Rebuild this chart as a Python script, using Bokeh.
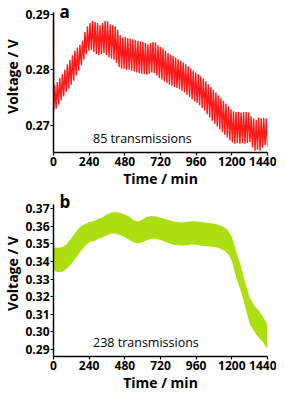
import numpy as np
from bokeh.plotting import figure
from bokeh.layouts import column
from bokeh.models import FixedTicker, PrintfTickFormatter, Label, Range1d
from bokeh.embed import file_html
from bokeh.resources import INLINE

# ---------------- Panel a : 85 transmissions ----------------
a_cycles = 85
a_duration = 1440
a_start_v = 0.2898
a_end_v = 0.2662
a_troughs = [
    0.2725, 0.2730, 0.2737, 0.2745, 0.2752, 0.2760, 0.2766, 0.2773, 0.2780, 0.2790,
    0.2798, 0.2808, 0.2818, 0.2828, 0.2834, 0.2836, 0.2832, 0.2828, 0.2826, 0.2828,
    0.2830, 0.2826, 0.2822, 0.2820, 0.2818, 0.2812, 0.2805, 0.2802, 0.2802, 0.2800,
    0.2800, 0.2798, 0.2797, 0.2795, 0.2794, 0.2793, 0.2792, 0.2791, 0.2793, 0.2795,
    0.2794, 0.2789, 0.2785, 0.2782, 0.2779, 0.2776, 0.2773, 0.2771, 0.2769, 0.2767,
    0.2765, 0.2762, 0.2759, 0.2755, 0.2751, 0.2747, 0.2743, 0.2740, 0.2736, 0.2731,
    0.2726, 0.2720, 0.2714, 0.2708, 0.2703, 0.2698, 0.2693, 0.2688, 0.2683, 0.2678,
    0.2673, 0.2669, 0.2667, 0.2668, 0.2667, 0.2668, 0.2667, 0.2668, 0.2670, 0.2660,
    0.2654, 0.2656, 0.2654, 0.2660, 0.2664,
]
a_peaks = [
    0.2772, 0.2778, 0.2785, 0.2792, 0.2800, 0.2810, 0.2818, 0.2826, 0.2834, 0.2840,
    0.2845, 0.2852, 0.2868, 0.2878, 0.2884, 0.2888, 0.2886, 0.2884, 0.2880, 0.2884,
    0.2888, 0.2887, 0.2882, 0.2880, 0.2878, 0.2872, 0.2862, 0.2858, 0.2859, 0.2857,
    0.2856, 0.2855, 0.2853, 0.2852, 0.2851, 0.2850, 0.2848, 0.2846, 0.2848, 0.2850,
    0.2849, 0.2844, 0.2841, 0.2838, 0.2834, 0.2830, 0.2827, 0.2825, 0.2822, 0.2819,
    0.2816, 0.2813, 0.2810, 0.2806, 0.2802, 0.2798, 0.2795, 0.2792, 0.2788, 0.2784,
    0.2779, 0.2774, 0.2769, 0.2764, 0.2759, 0.2754, 0.2749, 0.2744, 0.2739, 0.2734,
    0.2729, 0.2725, 0.2724, 0.2724, 0.2723, 0.2724, 0.2724, 0.2723, 0.2716, 0.2712,
    0.2710, 0.2714, 0.2712, 0.2713, 0.2712,
]
a_label = "85 transmissions"

# ---------------- Panel b : 238 transmissions (band envelope) ----------------
b_time = [0, 30, 60, 90, 120, 150, 180, 210, 240, 270, 300, 330, 360, 390, 420, 450,
          480, 510, 540, 570, 600, 630, 660, 690, 720, 750, 780, 810, 840, 870, 900,
          930, 960, 990, 1020, 1050, 1080, 1110, 1140, 1170, 1200, 1230, 1260, 1290,
          1320, 1350, 1380, 1410, 1440]
b_upper = [0.3480, 0.3478, 0.3482, 0.3500, 0.3532, 0.3568, 0.3598, 0.3612, 0.3625,
           0.3630, 0.3642, 0.3652, 0.3668, 0.3680, 0.3682, 0.3677, 0.3668, 0.3655,
           0.3635, 0.3628, 0.3640, 0.3655, 0.3660, 0.3657, 0.3650, 0.3642, 0.3635,
           0.3628, 0.3624, 0.3622, 0.3626, 0.3630, 0.3628, 0.3625, 0.3622, 0.3620,
           0.3615, 0.3610, 0.3600, 0.3582, 0.3540, 0.3455, 0.3375, 0.3280, 0.3195,
           0.3150, 0.3120, 0.3085, 0.3040]
b_lower = [0.3350, 0.3338, 0.3342, 0.3360, 0.3385, 0.3420, 0.3455, 0.3485, 0.3510,
           0.3515, 0.3528, 0.3538, 0.3550, 0.3560, 0.3558, 0.3550, 0.3538, 0.3522,
           0.3508, 0.3502, 0.3510, 0.3522, 0.3530, 0.3530, 0.3522, 0.3512, 0.3502,
           0.3496, 0.3492, 0.3490, 0.3493, 0.3497, 0.3495, 0.3490, 0.3488, 0.3486,
           0.3482, 0.3478, 0.3466, 0.3448, 0.3405, 0.3305, 0.3235, 0.3140, 0.3045,
           0.3000, 0.2965, 0.2940, 0.2900]
b_label = "238 transmissions"

x_ticks = [0, 240, 480, 720, 960, 1200, 1440]
a_yticks = [0.27, 0.28, 0.29]
b_yticks = [0.29, 0.30, 0.31, 0.32, 0.33, 0.34, 0.35, 0.36, 0.37]
x_title = "Time / min"
y_title = "Voltage / V"

RED = "#ff1a1a"
GREEN = "#addf10"
FONT = "Open Sans"
FRAME_W = 214


def make_panel(y_lo, y_bound, frame_h, head_px, yticks, letter, note):
    """Frame includes a head strip (head_px) above the axis end for the letter."""
    y_hi = y_bound + head_px * (y_bound - y_lo) / (frame_h - head_px)
    p = figure(frame_width=FRAME_W, frame_height=frame_h, output_backend="svg",
               toolbar_location=None, x_range=Range1d(0, 1440),
               y_range=Range1d(y_lo, y_hi), min_border_left=10,
               min_border_right=9, min_border_top=0, min_border_bottom=0)
    p.outline_line_color = None
    p.xgrid.visible = False
    p.ygrid.visible = False
    p.xaxis.ticker = FixedTicker(ticks=x_ticks)
    p.yaxis.ticker = FixedTicker(ticks=yticks)
    p.yaxis.formatter = PrintfTickFormatter(format="%.2f")
    p.yaxis.bounds = (y_lo, y_bound)
    for ax in (p.xaxis[0], p.yaxis[0]):
        ax.axis_line_width = 1.5
        ax.axis_line_color = "black"
        ax.major_tick_line_width = 1.2
        ax.major_tick_out = 3
        ax.major_tick_in = 0
        ax.minor_tick_out = 0
        ax.minor_tick_in = 0
        ax.major_label_text_font = FONT
        ax.major_label_text_font_style = "bold"
        ax.major_label_text_font_size = "12px"
        ax.major_label_text_color = "black"
        ax.major_label_standoff = 1
        ax.axis_label_text_font = FONT
        ax.axis_label_text_font_style = "bold"
        ax.axis_label_text_font_size = "14px"
        ax.axis_label_text_color = "black"
        ax.axis_label_standoff = 0
    p.xaxis.axis_label = x_title
    p.yaxis.axis_label = y_title
    p.add_layout(Label(x=40, y=y_hi, text=letter, text_font=FONT,
                       text_font_size="17px", text_font_style="bold",
                       text_color="black", text_baseline="top", y_offset=1))
    p.add_layout(Label(x=266, y=y_lo, y_offset=14, text=note, text_font=FONT,
                       text_font_size="12.5px", text_color="black",
                       text_baseline="alphabetic"))
    return p


# ---- build panel a ----
period = a_duration / a_cycles
ax_x = [0.0]
ax_y = [a_start_v]
for k in range(a_cycles):
    ax_x += [(k + 0.05) * period, (k + 0.5) * period]
    ax_y += [a_troughs[k], a_peaks[k]]
ax_x.append(float(a_duration))
ax_y.append(a_end_v)

pa = make_panel(0.2651, 0.2903, 152, 12, a_yticks, "a", a_label)
pa.line(ax_x, ax_y, line_color=RED, line_width=1.4)

# ---- build panel b ----
pb = make_panel(0.2858, 0.3725, 166, 14, b_yticks, "b", b_label)
pb.varea(x=b_time, y1=b_lower, y2=b_upper, fill_color=GREEN, fill_alpha=1.0)

layout = column(pa, pb, spacing=0)
open("out.html", "w").write(file_html(layout, INLINE))
